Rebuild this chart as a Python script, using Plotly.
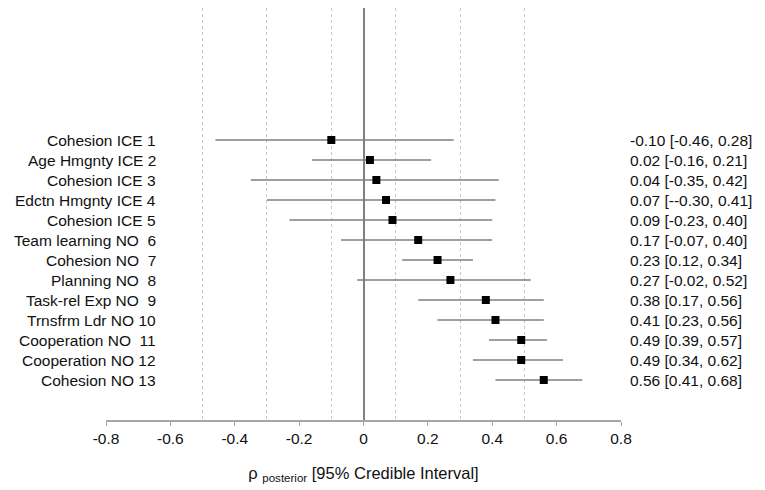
import plotly.graph_objects as go

labels = ["Cohesion ICE 1", "Age Hmgnty ICE 2", "Cohesion ICE 3", "Edctn Hmgnty ICE 4",
          "Cohesion ICE 5", "Team learning NO  6", "Cohesion NO  7", "Planning NO  8",
          "Task-rel Exp NO  9", "Trnsfrm Ldr NO 10", "Cooperation NO  11",
          "Cooperation NO 12", "Cohesion NO 13"]
rho = [-0.10, 0.02, 0.04, 0.07, 0.09, 0.17, 0.23, 0.27, 0.38, 0.41, 0.49, 0.49, 0.56]
lower = [-0.46, -0.16, -0.35, -0.30, -0.23, -0.07, 0.12, -0.02, 0.17, 0.23, 0.39, 0.34, 0.41]
upper = [0.28, 0.21, 0.42, 0.41, 0.40, 0.40, 0.34, 0.52, 0.56, 0.56, 0.57, 0.62, 0.68]
ci_text = ["-0.10 [-0.46, 0.28]", "0.02 [-0.16, 0.21]", "0.04 [-0.35, 0.42]",
           "0.07 [--0.30, 0.41]", "0.09 [-0.23, 0.40]", "0.17 [-0.07, 0.40]",
           "0.23 [0.12, 0.34]", "0.27 [-0.02, 0.52]", "0.38 [0.17, 0.56]",
           "0.41 [0.23, 0.56]", "0.49 [0.39, 0.57]", "0.49 [0.34, 0.62]",
           "0.56 [0.41, 0.68]"]
x_ticks = [-0.8, -0.6, -0.4, -0.2, 0, 0.2, 0.4, 0.6, 0.8]
x_tick_text = ["-0.8", "-0.6", "-0.4", "-0.2", "0", "0.2", "0.4", "0.6", "0.8"]
dashed_at = [-0.5, -0.3, -0.1, 0.1, 0.3, 0.5]

rows = list(range(1, len(labels) + 1))
FONT = "Liberation Sans, Arial, sans-serif"
FSIZE = 15.5

fig = go.Figure()

fig.add_trace(go.Scatter(
    x=rho, y=rows, mode="markers",
    marker=dict(symbol="square", size=8, color="black"),
    error_x=dict(type="data", symmetric=False,
                 array=[u - r for u, r in zip(upper, rho)],
                 arrayminus=[r - l for r, l in zip(rho, lower)],
                 color="#7f7f7f", thickness=1.5, width=0),
    showlegend=False,
))

# row labels on the left, estimates with intervals on the right
for i, lab in enumerate(labels):
    fig.add_annotation(x=0.101, xref="paper", y=rows[i], yref="y", text=lab,
                       showarrow=False, xanchor="right", yanchor="middle",
                       font=dict(family=FONT, size=FSIZE, color="#111"))
    fig.add_annotation(x=1.013, xref="paper", y=rows[i], yref="y", text=ci_text[i],
                       showarrow=False, xanchor="left", yanchor="middle",
                       font=dict(family=FONT, size=FSIZE, color="#111"))

fig.update_layout(
    width=757, height=482,
    margin=dict(l=98, r=144, t=0, b=70),
    paper_bgcolor="white", plot_bgcolor="white",
    font=dict(family=FONT, size=FSIZE, color="#111"),
    xaxis=dict(
        range=[-0.8, 0.8], tickmode="array", tickvals=x_ticks, ticktext=x_tick_text,
        showgrid=False, zeroline=True, zerolinecolor="#808080", zerolinewidth=1.5,
        showline=True, linecolor="#a6a6a6", linewidth=1.5,
        ticks="outside", ticklen=4, tickcolor="#a6a6a6",
        tickfont=dict(family=FONT, size=FSIZE, color="#111"),
        minor=dict(tickmode="array", tickvals=dashed_at, showgrid=True,
                   gridcolor="#c8c8c8", gridwidth=1, griddash="3px,3px", ticks=""),
        title=dict(text="ρ <sub>posterior</sub> [95% Credible Interval]",
                   font=dict(family=FONT, size=16.5, color="#111"), standoff=21),
        fixedrange=True,
    ),
    yaxis=dict(range=[15, -5.6], showgrid=False, zeroline=False, showticklabels=False,
               showline=False, fixedrange=True),
)

fig.write_html("out.html")
